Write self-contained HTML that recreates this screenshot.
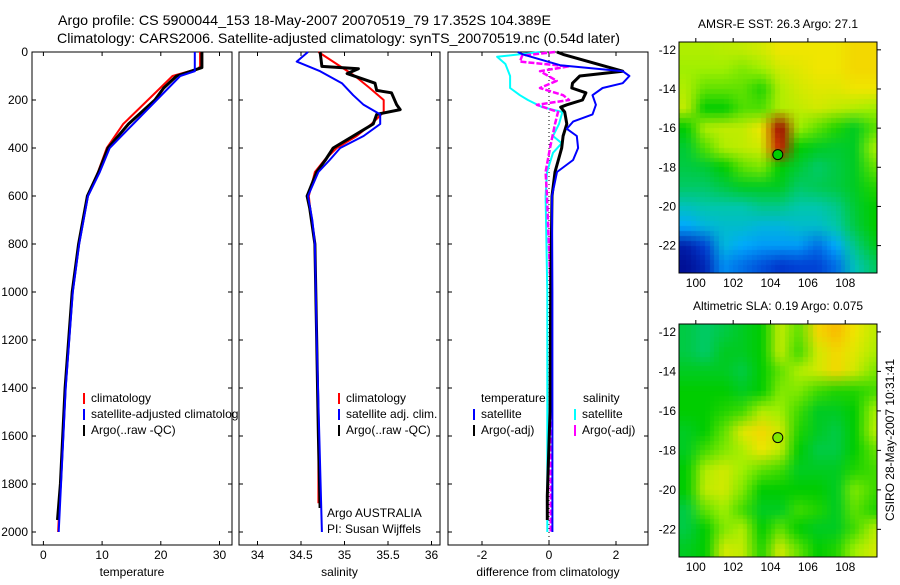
<!DOCTYPE html>
<html><head><meta charset="utf-8"><style>
body{margin:0;background:#fff;width:900px;height:580px;overflow:hidden;font-family:"Liberation Sans",sans-serif}
svg text{font-family:"Liberation Sans",sans-serif;fill:#000}
</style></head><body>
<svg id="fig" width="900" height="580" xmlns="http://www.w3.org/2000/svg">
<text x="58" y="25" font-size="14" textLength="493" lengthAdjust="spacingAndGlyphs">Argo profile: CS 5900044_153 18-May-2007 20070519_79 17.352S 104.389E</text>
<text x="57" y="43" font-size="14" textLength="563" lengthAdjust="spacingAndGlyphs">Climatology: CARS2006. Satellite-adjusted climatology: synTS_20070519.nc (0.54d later)</text>
<g id="plots"></g>
<foreignObject x="679" y="42" width="198" height="231"><canvas xmlns="http://www.w3.org/1999/xhtml" id="map1" width="198" height="231" style="display:block"></canvas></foreignObject>
<foreignObject x="679" y="324" width="198" height="233"><canvas xmlns="http://www.w3.org/1999/xhtml" id="map2" width="198" height="233" style="display:block"></canvas></foreignObject>
<g id="maps"></g>
<text transform="translate(894,440) rotate(-90)" text-anchor="middle" font-size="12">CSIRO 28-May-2007 10:31:41</text>
</svg>
<script>
// ---- profile data (depth in dbar) ----
const tempClimDepth=[0,60,70,100,200,300,400,500,600,800,1000,1400,2000];
const tempClim=[26.7,26.7,26.3,22,17.8,13.6,10.8,9.3,7.5,6.0,4.9,3.7,2.5];
const tempSatDepth=[0,80,100,200,300,400,500,600,800,1000,1400,2000];
const tempSat=[25.8,25.8,23.3,19.3,15.3,11.3,9.6,7.6,6.1,5.0,3.8,2.6];
const tempArgoDepth=[0,65,100,150,200,300,400,500,600,800,1000,1400,1800,1950];
const tempArgo=[27,27,22.7,20.5,19,14.5,11,9.4,7.5,6.0,4.9,3.7,2.9,2.4];

const salClimDepth=[0,50,100,150,200,250,300,350,400,450,500,600,700,800,1200,1600,1880];
const salClim=[34.70,34.91,35.12,35.29,35.45,35.45,35.31,35.14,34.91,34.77,34.66,34.59,34.62,34.66,34.68,34.70,34.70];
const salSatDepth=[0,40,80,130,180,220,260,300,350,400,450,500,600,700,800,1200,1600,2000];
const salSat=[34.58,34.45,34.72,34.97,35.10,35.22,35.41,35.41,35.22,34.95,34.83,34.70,34.58,34.63,34.66,34.68,34.71,34.74];
const salArgoDepth=[0,60,70,90,130,160,170,220,240,260,300,350,400,450,500,600,650,800,1200,1600,1900];
const salArgo=[34.72,34.74,35.16,35.03,35.35,35.37,35.54,35.60,35.64,35.37,35.33,35.10,34.87,34.78,34.68,34.57,34.60,34.66,34.68,34.70,34.72];

const dTSatDepth=[0,10,55,80,100,130,150,180,220,260,290,320,350,400,450,500,600,1000,1600,2000];
const dTSat=[-0.93,-0.78,0.33,2.2,2.4,2.2,1.6,1.3,1.4,1.3,0.72,0.53,0.83,0.87,0.72,0.24,0.09,0.1,0.1,0.1];
const dTArgoDepth=[0,10,80,100,130,150,170,200,220,230,250,300,350,400,500,600,1000,1500,1850,1950];
const dTArgo=[0.24,0.42,2.2,0.92,0.7,0.68,1.1,1.0,0.53,0.35,0.47,0.53,0.42,0.38,0.18,0.09,0.05,0.03,-0.05,-0.05];
const dSSatDepth=[0,20,50,100,150,180,200,230,250,300,350,380,420,500,600,1000,2000];
const dSSat=[-0.27,-1.55,-1.3,-1.16,-1.16,-0.87,-0.63,-0.2,0.4,0.3,0.12,0.38,0.12,-0.06,-0.1,-0.05,-0.05];
const dSArgoDepth=[0,15,40,60,80,120,150,180,200,220,250,300,400,500,600,1000,2000];
const dSArgo=[0.18,-0.8,-0.87,0.58,-0.27,0.23,-0.27,0.42,0.6,-0.36,0.27,0.18,0.03,-0.1,-0.06,0.05,0.05];

const depthTicks=[0,200,400,600,800,1000,1200,1400,1600,1800,2000];
const tempTicks=[0,10,20,30];
const salTicks=[34,34.5,35,35.5,36];
const salTickLabels=["34","34.5","35","35.5","36"];
const diffTicks=[-2,0,2];

// ---- map data (rows lat -12..-23, cols lon 99.5..109.5) ----
const sstGrid=[
[.62,.62,.63,.64,.66,.70,.70,.70,.70,.72,.72],
[.60,.60,.60,.58,.60,.66,.68,.70,.70,.72,.72],
[.62,.56,.56,.56,.52,.62,.66,.68,.68,.70,.70],
[.64,.50,.50,.55,.55,.62,.64,.66,.64,.62,.60],
[.50,.62,.64,.64,.70,.98,.60,.56,.52,.48,.55],
[.47,.55,.62,.64,.66,.90,.50,.48,.47,.48,.60],
[.46,.47,.50,.56,.58,.50,.47,.44,.46,.48,.56],
[.44,.44,.46,.48,.48,.48,.44,.45,.46,.48,.52],
[.38,.40,.40,.40,.42,.42,.40,.40,.42,.47,.50],
[.30,.34,.36,.36,.34,.34,.36,.36,.40,.46,.50],
[.08,.16,.34,.30,.28,.28,.28,.22,.30,.42,.48],
[.04,.10,.26,.22,.18,.14,.16,.16,.22,.38,.44]];
const slaGrid=[
[.46,.44,.46,.48,.50,.64,.56,.72,.76,.70,.64],
[.46,.44,.48,.48,.50,.64,.54,.66,.72,.68,.62],
[.48,.48,.48,.46,.50,.56,.62,.66,.72,.66,.58],
[.50,.50,.50,.48,.50,.58,.58,.54,.52,.52,.54],
[.50,.50,.52,.54,.62,.60,.54,.48,.48,.50,.60],
[.48,.50,.56,.68,.72,.66,.52,.48,.46,.50,.62],
[.48,.54,.58,.62,.70,.64,.50,.46,.46,.50,.56],
[.50,.62,.66,.60,.56,.54,.48,.48,.48,.52,.54],
[.50,.64,.66,.58,.50,.50,.50,.50,.48,.58,.54],
[.46,.56,.60,.54,.48,.48,.54,.52,.48,.56,.52],
[.46,.50,.58,.62,.50,.56,.50,.48,.48,.54,.62],
[.48,.50,.66,.64,.52,.66,.56,.50,.52,.60,.66]];
const lonTicks=[100,102,104,106,108];
const latTicks=[-12,-14,-16,-18,-20,-22];
const argoLon=104.389, argoLat=-17.352;
const sstArgoVal=0.5, slaArgoVal=0.58;

const NS="http://www.w3.org/2000/svg";
function mk(tag,attrs,parent){const e=document.createElementNS(NS,tag);for(const k in attrs)e.setAttribute(k,attrs[k]);parent.appendChild(e);return e;}
const plots=document.getElementById('plots');
const Y0=52,Y1=545,dScale=0.24;
const yOf=d=>Y0+d*dScale;

function panel(name,x0,x1,xmap,ticks,labels,title){
  const g=mk('g',{},plots);
  
  
  const r=mk('rect',{x:x0,y:Y0,width:x1-x0,height:Y1-Y0,fill:'#fff',stroke:'#000','stroke-width':1},g);
  
  
  ticks.forEach((t,i)=>{const x=xmap(t);
    mk('line',{x1:x,x2:x,y1:Y1,y2:Y1-4,stroke:'#000'},g);
    mk('line',{x1:x,x2:x,y1:Y0,y2:Y0+4,stroke:'#000'},g);
    const tx=mk('text',{x:x,y:Y1+14,'text-anchor':'middle','font-size':12},g);tx.textContent=labels[i];
    
    
  });
  depthTicks.forEach(d=>{const y=yOf(d);
    mk('line',{x1:x0,x2:x0+4,y1:y,y2:y,stroke:'#000'},g);
    mk('line',{x1:x1,x2:x1-4,y1:y,y2:y,stroke:'#000'},g);
  });
  const t=mk('text',{x:(x0+x1)/2,y:576,'text-anchor':'middle','font-size':12},g);t.textContent=title;
  
  
  return g;
}
function line(g,xs,ds,xmap,color,w,name,dash){
  const pts=xs.map((v,i)=>xmap(v).toFixed(1)+','+yOf(ds[i]).toFixed(1)).join(' ');
  const p=mk('polyline',{points:pts,fill:'none',stroke:color,'stroke-width':w,'stroke-linejoin':'round'},g);
  if(dash)p.setAttribute('stroke-dasharray',dash);
  
  
}
function legend(g,x,y,color,label,name){
  mk('line',{x1:x,x2:x,y1:y-9,y2:y+2,stroke:color,'stroke-width':2},g);
  const t=mk('text',{x:x+7,y:y,'font-size':12},g);t.textContent=label;
  
  
}
const txT=v=>43.4+v*5.87;
const txS=v=>257.5+(v-34)*87;
const txD=v=>549+v*33.5;

const g1=panel('temperature-panel',32,232,txT,tempTicks,tempTicks.map(String),'temperature');
depthTicks.forEach(d=>{const t=mk('text',{x:28,y:yOf(d)+4,'text-anchor':'end','font-size':12},g1);t.textContent=d;
  
  });
line(g1,tempClim,tempClimDepth,txT,'#f00',2,'temp-climatology-line');
line(g1,tempArgo,tempArgoDepth,txT,'#000',3,'temp-argo-line');
line(g1,tempSat,tempSatDepth,txT,'#00f',2,'temp-satellite-line');
legend(g1,84,402,'#f00','climatology','legend-climatology');
legend(g1,84,418,'#00f','satellite-adjusted climatology','legend-satellite');
legend(g1,84,434,'#000','Argo(..raw -QC)','legend-argo');

const g2=panel('salinity-panel',239,440,txS,salTicks,salTickLabels,'salinity');
line(g2,salClim,salClimDepth,txS,'#f00',2,'sal-climatology-line');
line(g2,salArgo,salArgoDepth,txS,'#000',3,'sal-argo-line');
line(g2,salSat,salSatDepth,txS,'#00f',2,'sal-satellite-line');
legend(g2,339,402,'#f00','climatology','legend-climatology');
legend(g2,339,418,'#00f','satellite adj. clim.','legend-satellite');
legend(g2,339,434,'#000','Argo(..raw -QC)','legend-argo');
[['Argo AUSTRALIA',517],['PI: Susan Wijffels',533]].forEach(([s,y])=>{const t=mk('text',{x:327,y:y,'font-size':12},g2);t.textContent=s;
  
  });

const g3=panel('difference-panel',448,648,txD,diffTicks,diffTicks.map(String),'difference from climatology');
mk('line',{x1:txD(0),x2:txD(0),y1:Y0,y2:Y1,stroke:'#000','stroke-dasharray':'1,3'},g3);
line(g3,dSSat,dSSatDepth,txD,'#0ff',2,'sal-satellite-diff-line');
line(g3,dSArgo,dSArgoDepth,txD,'#f0f',2.5,'sal-argo-diff-line','6,2');
line(g3,dTArgo,dTArgoDepth,txD,'#000',3,'temp-argo-diff-line');
line(g3,dTSat,dTSatDepth,txD,'#00f',2,'temp-satellite-diff-line');
[['temperature',481],['salinity',583]].forEach(([s,x])=>{const t=mk('text',{x:x,y:402,'font-size':12},g3);t.textContent=s;
  
  });
legend(g3,474,418,'#00f','satellite','legend-temp-satellite');
legend(g3,474,434,'#000','Argo(-adj)','legend-temp-argo');
legend(g3,575,418,'#0ff','satellite','legend-sal-satellite');
legend(g3,575,434,'#f0f','Argo(-adj)','legend-sal-argo');

// ---- maps ----
const stops=[[0,[0,0,128]],[.15,[0,60,210]],[.3,[0,170,255]],[.4,[0,200,170]],[.5,[0,205,0]],[.6,[160,240,0]],[.7,[240,230,0]],[.8,[255,160,0]],[.9,[200,30,0]],[1,[150,0,0]]];
function cmap(v){for(let i=1;i<stops.length;i++){if(v<=stops[i][0]){const [a,ca]=stops[i-1],[b,cb]=stops[i];const f=(v-a)/(b-a);return ca.map((c,k)=>Math.round(c+(cb[k]-c)*f));}}return stops[stops.length-1][1];}
const maps=document.getElementById('maps');
function drawMap(id,grid,top,h,title,name,argoVal){
  const L=679,W=198,lon0=99.1,lon1=109.7,lat0=-11.6,lat1=-23.4;
  const xm=lon=>L+(lon-lon0)/(lon1-lon0)*W, ym=lat=>top+(lat-lat0)/(lat1-lat0)*h;
  const src=document.createElement('canvas');src.width=grid[0].length;src.height=grid.length;
  const sc=src.getContext('2d');const img=sc.createImageData(src.width,src.height);
  grid.forEach((row,r)=>row.forEach((v,c)=>{const col=cmap(v);const i=(r*src.width+c)*4;img.data[i]=col[0];img.data[i+1]=col[1];img.data[i+2]=col[2];img.data[i+3]=255;}));
  sc.putImageData(img,0,0);
  const mid=document.createElement('canvas');mid.width=44;mid.height=48;
  const mc=mid.getContext('2d');mc.imageSmoothingEnabled=true;mc.drawImage(src,0,0,44,48);
  const cv=document.getElementById(id);const ctx=cv.getContext('2d');
  ctx.imageSmoothingEnabled=false;
  const x0=xm(99)-L,x1=xm(110)-L,y0=ym(-11.5)-top,y1=ym(-23.5)-top;
  ctx.drawImage(mid,x0,y0,x1-x0,y1-y0);
  const g=mk('g',{},maps);
  
  
  const fr=mk('rect',{x:L,y:top,width:W,height:h,fill:'none',stroke:'#000'},g);
  
  
  lonTicks.forEach(l=>{const x=xm(l);mk('line',{x1:x,x2:x,y1:top,y2:top-4,stroke:'#000'},g);
    const t=mk('text',{x:x,y:top+h+14,'text-anchor':'middle','font-size':12},g);t.textContent=l;
    
    });
  latTicks.forEach(l=>{const y=ym(l);mk('line',{x1:L+W,x2:L+W+4,y1:y,y2:y,stroke:'#000'},g);
    const t=mk('text',{x:L-3,y:y+4,'text-anchor':'end','font-size':12},g);t.textContent=l;
    
    });
  const col=cmap(argoVal);
  const c=mk('circle',{cx:xm(argoLon),cy:ym(argoLat),r:5,fill:'rgb('+col.join(',')+')',stroke:'#000','stroke-width':1},g);
  
  
  const t=mk('text',{x:L+W/2,y:top-14,'text-anchor':'middle','font-size':12},g);t.textContent=title;
  
  
}
drawMap('map1',sstGrid,42,231,'AMSR-E SST: 26.3 Argo: 27.1','sst-map',sstArgoVal);
drawMap('map2',slaGrid,324,233,'Altimetric SLA: 0.19 Argo: 0.075','sla-map',slaArgoVal);
</script>
</body></html>
